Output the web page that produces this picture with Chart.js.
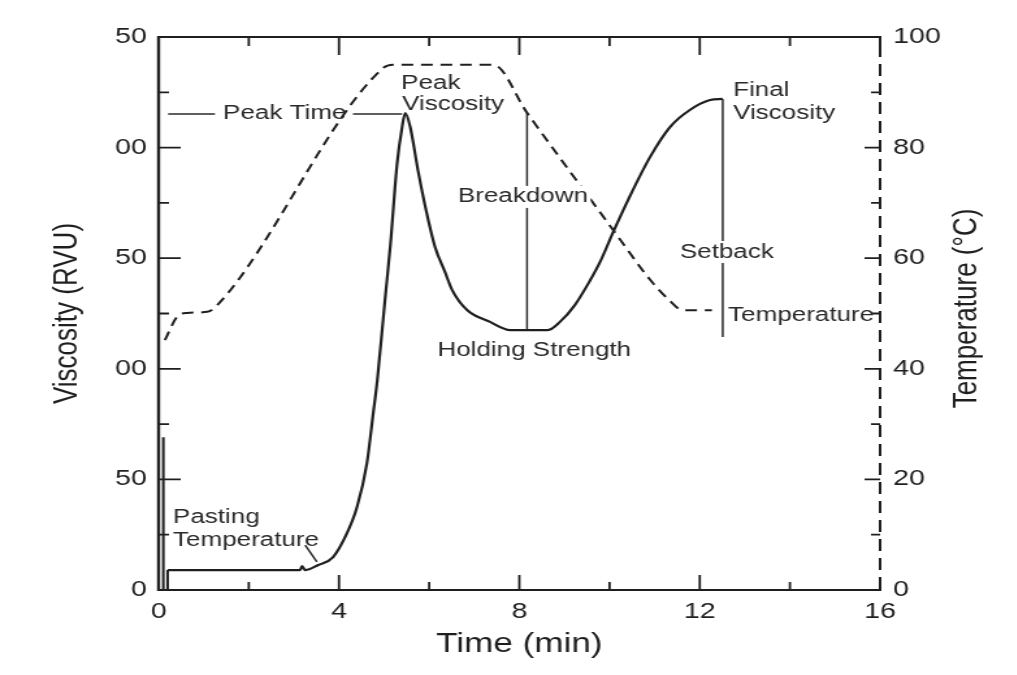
<!DOCTYPE html>
<html>
<head>
    <title>RVA Pasting Profile</title>
    <script src="https://cdn.jsdelivr.net/npm/chart.js"></script>
    <style>
        body { margin: 0; background: #fff; overflow: hidden; }
        /* the figure is drawn narrow and widened, like the scanned original */
        #wrap { width: 782px; height: 675px; transform: scaleX(1.3); transform-origin: 0 0; }
    </style>
</head>
<body>
<div id="wrap">
    <canvas id="rvaChart" width="782" height="675"></canvas>
</div>
<script>
    const timeTicks = [0, 4, 8, 12, 16];
    const viscosityTicks = [0, 50, 100, 150, 200, 250];
    const viscosityTickLabels = ['0', '50', '00', '50', '00', '50'];
    const temperatureTicks = [0, 20, 40, 60, 80, 100];

    // stirring spike at the start of the run
    const startTime = [0.09, 0.10, 0.11, 0.19, 0.20];
    const startViscosity = [0, 69, 0, 0, 9];

    // viscosity (RVU) against time (min)
    const viscTime = [0.20, 1.50, 3.14, 3.18, 3.25, 3.54, 3.87, 4.18, 4.40, 4.62, 4.76, 4.85,
        5.02, 5.14, 5.29, 5.40, 5.47, 5.58, 5.75, 5.93, 6.13, 6.35, 6.51, 6.84, 7.35, 7.80,
        8.63, 8.90, 9.23, 9.57, 9.79, 10.08, 10.41, 10.90, 11.34, 11.78, 12.23, 12.51];
    const viscValue = [9.0, 9.0, 9.0, 10.8, 9.0, 11.3, 14.9, 25.8, 37.5, 57.4, 80.0, 94.9,
        131.1, 156.0, 193.0, 209.3, 215.6, 209.3, 189.9, 171.8, 155.1, 143.8, 135.6, 126.6, 121.2, 117.5,
        117.5, 121.2, 128.8, 140.0, 148.3, 161.8, 176.3, 195.8, 209.3, 217.0, 221.5, 222.0];

    // temperature profile (°C)
    const tempTime = [0.14, 0.41, 0.63, 1.08, 1.30, 4.98, 5.20, 7.42, 8.17, 10.08, 10.90, 11.30, 11.63, 12.27];
    const tempValue = [45.2, 49.4, 50.1, 50.3, 51.5, 94.4, 95.0, 95.0, 86.3, 65.1, 56.1, 52.6, 50.6, 50.6];

    // marker lines, [time, viscosity]
    const peakLeaderA = [[0.21, 215.2], [1.25, 215.2]];
    const peakLeaderB = [[4.31, 215.2], [5.40, 215.2]];
    const breakdownLine = [[8.17, 215.6], [8.17, 117.5]];
    const setbackLine = [[12.51, 222.0], [12.51, 114.4]];
    const pastingLeader = [[3.25, 20.3], [3.51, 12.7]];

    const labels = [
        { text: 'Peak Time', t: 1.43, v: 215.2, axis: 'y', align: 'left' },
        { text: 'Peak', t: 5.38, v: 229.2, axis: 'y', align: 'left' },
        { text: 'Viscosity', t: 5.40, v: 219.3, axis: 'y', align: 'left' },
        { text: 'Breakdown', t: 8.08, v: 177.7, axis: 'y', align: 'center', knockout: true },
        { text: 'Holding Strength', t: 8.33, v: 108.5, axis: 'y', align: 'center' },
        { text: 'Final', t: 12.74, v: 226.0, axis: 'y', align: 'left' },
        { text: 'Viscosity', t: 12.74, v: 215.6, axis: 'y', align: 'left' },
        { text: 'Setback', t: 12.60, v: 152.8, axis: 'y', align: 'center', knockout: true },
        { text: 'Temperature', t: 12.63, v: 49.7, axis: 'y2', align: 'left' },
        { text: 'Pasting', t: 0.32, v: 33.0, axis: 'y', align: 'left' },
        { text: 'Temperature', t: 0.32, v: 22.6, axis: 'y', align: 'left' }
    ];

    const ink = '#1f1f1f';
    const fontFamily = "'Liberation Sans', Arial, sans-serif";

    function zip(xs, ys) {
        return xs.map((x, i) => ({ x: x, y: ys[i] }));
    }

    function pairs(list) {
        return list.map(p => ({ x: p[0], y: p[1] }));
    }

    function markerLine(points) {
        return {
            data: pairs(points),
            borderColor: '#2a2a2a',
            borderWidth: 1.5,
            pointRadius: 0,
            tension: 0,
            yAxisID: 'y'
        };
    }

    const framePlugin = {
        id: 'frame',
        afterDatasetsDraw(chart) {
            const ctx = chart.ctx;
            const { left, right, top, bottom } = chart.chartArea;
            const { x, y, y2 } = chart.scales;
            ctx.save();
            ctx.strokeStyle = ink;
            ctx.lineCap = 'butt';

            // top and bottom borders
            ctx.lineWidth = 2;
            ctx.beginPath();
            ctx.moveTo(left, top); ctx.lineTo(right, top);
            ctx.moveTo(left, bottom); ctx.lineTo(right + 1, bottom);
            ctx.moveTo(right, top - 1); ctx.lineTo(right, top + 8);
            ctx.stroke();

            // left axis
            ctx.lineWidth = 2.4;
            ctx.beginPath();
            ctx.moveTo(left, top - 1); ctx.lineTo(left, bottom + 1);
            ctx.stroke();

            // right axis is dashed
            ctx.lineWidth = 2;
            ctx.setLineDash([12, 7]);
            ctx.beginPath();
            ctx.moveTo(right, top + 8); ctx.lineTo(right, bottom);
            ctx.stroke();
            ctx.setLineDash([]);

            ctx.lineWidth = 1.8;
            ctx.beginPath();
            // time ticks, every 2 min, longer at the labelled ones
            for (let t = 2; t < 16; t += 2) {
                const px = x.getPixelForValue(t);
                const major = t % 4 === 0;
                ctx.moveTo(px, top); ctx.lineTo(px, top + (major ? 18 : 9));
                ctx.moveTo(px, bottom); ctx.lineTo(px, bottom - (major ? 15 : 8));
            }
            // viscosity ticks, every 25 RVU
            for (let v = 25; v < 250; v += 25) {
                const py = y.getPixelForValue(v);
                ctx.moveTo(left, py); ctx.lineTo(left + (v % 50 === 0 ? 17 : 8), py);
            }
            // temperature ticks, every 10 °C
            for (let c = 10; c < 100; c += 10) {
                const py = y2.getPixelForValue(c);
                ctx.moveTo(right, py); ctx.lineTo(right - (c % 20 === 0 ? 12 : 7), py);
            }
            ctx.stroke();

            // right axis title reads upward, same as the left one
            ctx.fillStyle = ink;
            ctx.font = '26px ' + fontFamily;
            ctx.textAlign = 'center';
            ctx.textBaseline = 'middle';
            ctx.translate(y2.right - 38, (top + bottom) / 2 - 5);
            ctx.rotate(-Math.PI / 2);
            ctx.fillText('Temperature (°C)', 0, 0);
            ctx.restore();
        }
    };

    const labelPlugin = {
        id: 'curveLabels',
        afterDatasetsDraw(chart) {
            const ctx = chart.ctx;
            const xs = chart.scales.x;
            ctx.save();
            ctx.font = '20px ' + fontFamily;
            ctx.textBaseline = 'middle';
            labels.forEach(l => {
                const px = xs.getPixelForValue(l.t);
                const py = chart.scales[l.axis].getPixelForValue(l.v);
                ctx.textAlign = l.align;
                if (l.knockout) {
                    const w = ctx.measureText(l.text).width;
                    const x0 = l.align === 'center' ? px - w / 2 : px;
                    ctx.fillStyle = '#fff';
                    ctx.fillRect(x0 - 2, py - 11, w + 4, 22);
                }
                ctx.fillStyle = '#2a2a2a';
                ctx.fillText(l.text, px, py);
            });
            ctx.restore();
        }
    };

    function renderChart() {
        const ctx = document.getElementById('rvaChart').getContext('2d');
        new Chart(ctx, {
            type: 'line',
            data: {
                datasets: [
                    {
                        data: zip(startTime, startViscosity),
                        borderColor: ink,
                        borderWidth: 2,
                        pointRadius: 0,
                        tension: 0,
                        yAxisID: 'y'
                    },
                    {
                        data: zip(viscTime, viscValue),
                        borderColor: ink,
                        borderWidth: 2.2,
                        pointRadius: 0,
                        cubicInterpolationMode: 'monotone',
                        yAxisID: 'y'
                    },
                    {
                        data: zip(tempTime, tempValue),
                        borderColor: ink,
                        borderWidth: 2,
                        borderDash: [9, 6],
                        pointRadius: 0,
                        cubicInterpolationMode: 'monotone',
                        yAxisID: 'y2'
                    },
                    markerLine(peakLeaderA),
                    markerLine(peakLeaderB),
                    markerLine(breakdownLine),
                    markerLine(setbackLine),
                    markerLine(pastingLeader)
                ]
            },
            options: {
                responsive: false,
                animation: false,
                devicePixelRatio: 1,
                layout: { padding: { top: 37, left: 0, right: 0, bottom: 0 } },
                plugins: {
                    legend: { display: false },
                    tooltip: { enabled: false }
                },
                scales: {
                    x: {
                        type: 'linear',
                        min: 0,
                        max: 16,
                        afterBuildTicks: s => { s.ticks = timeTicks.map(v => ({ value: v })); },
                        afterFit: s => { s.height = 85; },
                        grid: { display: false, drawTicks: false },
                        border: { display: false },
                        ticks: { font: { family: fontFamily, size: 22 }, color: ink, padding: 9 },
                        title: {
                            display: true,
                            text: 'Time (min)',
                            font: { family: fontFamily, size: 27 },
                            color: ink,
                            padding: { top: 0, bottom: 14 }
                        }
                    },
                    y: {
                        type: 'linear',
                        position: 'left',
                        min: 0,
                        max: 250,
                        afterBuildTicks: s => { s.ticks = viscosityTicks.map(v => ({ value: v })); },
                        afterFit: s => { s.width = 122; },
                        grid: { display: false, drawTicks: false },
                        border: { display: false },
                        ticks: {
                            font: { family: fontFamily, size: 22 },
                            color: ink,
                            padding: 9,
                            callback: value => viscosityTickLabels[viscosityTicks.indexOf(value)]
                        },
                        title: {
                            display: true,
                            text: 'Viscosity (RVU)',
                            font: { family: fontFamily, size: 26 },
                            color: ink,
                            padding: { top: 36, bottom: 0 }
                        }
                    },
                    y2: {
                        type: 'linear',
                        position: 'right',
                        min: 0,
                        max: 100,
                        afterBuildTicks: s => { s.ticks = temperatureTicks.map(v => ({ value: v })); },
                        afterFit: s => { s.width = 105; },
                        grid: { display: false, drawTicks: false },
                        border: { display: false },
                        ticks: { font: { family: fontFamily, size: 22 }, color: ink, padding: 10 }
                    }
                }
            },
            plugins: [framePlugin, labelPlugin]
        });
    }

    renderChart();
</script>
</body>
</html>
